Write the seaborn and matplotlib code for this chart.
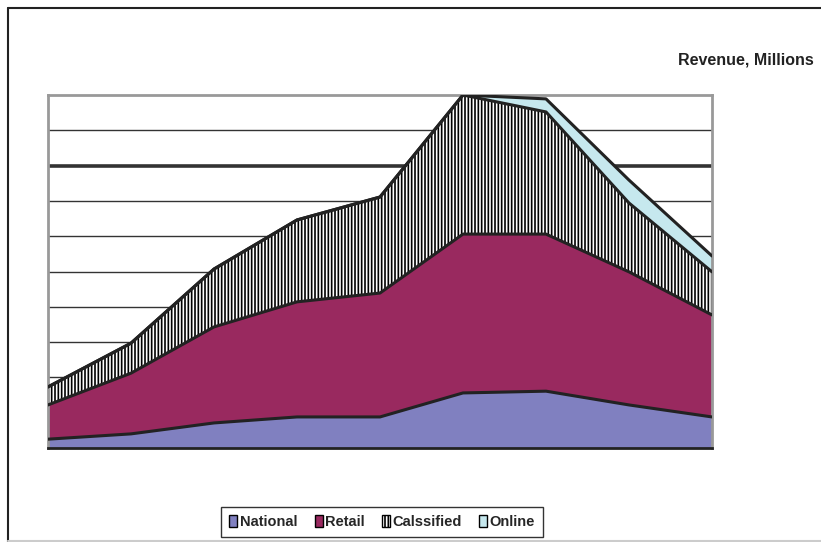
import numpy as np
import pandas as pd
import matplotlib
matplotlib.use('Agg')
import matplotlib.pyplot as plt
from matplotlib.patches import Patch
from matplotlib.lines import Line2D
import seaborn as sns

# Data (in gridline units)
periods = list(range(1, 10))
national = [0.25, 0.40, 0.71, 0.88, 0.88, 1.56, 1.61, 1.22, 0.88]
retail = [0.97, 1.72, 2.72, 3.26, 3.51, 4.50, 4.45, 3.77, 2.89]
classified = [0.51, 0.85, 1.64, 2.32, 2.72, 3.94, 3.46, 1.95, 1.22]
online = [0.00, 0.00, 0.00, 0.00, 0.00, 0.00, 0.37, 0.65, 0.45]
series_names = ['National', 'Retail', 'Calssified', 'Online']

df = pd.DataFrame({'period': periods, 'National': national, 'Retail': retail,
                   'Calssified': classified, 'Online': online})

sns.set_theme(style='white')
plt.rcParams['font.family'] = ['Liberation Sans', 'DejaVu Sans']
plt.rcParams['hatch.linewidth'] = 1.2
plt.rcParams['hatch.color'] = 'black'

fig = plt.figure(figsize=(8.21, 5.42), dpi=100)
ax = fig.add_axes([48 / 821, 94 / 542, 664 / 821, 353 / 542])

colors = ['#8080C0', '#99295F', 'white', '#C6E8EE']
hatches = [None, None, '|||||', None]

# stacked areas
cum = np.zeros(len(periods))
tops = []
for name, c, h in zip(series_names, colors, hatches):
    vals = df[name].values
    ax.fill_between(df['period'], cum, cum + vals, facecolor=c, hatch=h,
                    edgecolor='black' if h else c, linewidth=0, zorder=2)
    cum = cum + vals
    tops.append(cum.copy())

# boundary lines drawn with seaborn
lines = pd.DataFrame({'period': np.tile(periods, 4),
                      'value': np.concatenate(tops),
                      'series': np.repeat(series_names, len(periods))})
sns.lineplot(data=lines, x='period', y='value', units='series', estimator=None,
             color='#222222', linewidth=2.2, ax=ax, zorder=4, legend=False)

# gridlines
for g in range(1, 10):
    ax.axhline(g, color='#333333', linewidth=2.6 if g == 8 else 1.0, zorder=1)

ax.set_xlim(1, 9)
ax.set_ylim(0, 10)
ax.set_xticks([])
ax.set_yticks([])
ax.set_xlabel('')
ax.set_ylabel('')
for side in ['top', 'left', 'right']:
    ax.spines[side].set_color('#999999')
    ax.spines[side].set_linewidth(2)
ax.spines['bottom'].set_color('#222222')
ax.spines['bottom'].set_linewidth(2)

fig.text(814 / 821, 1 - 60 / 542, 'Revenue, Millions', ha='right', va='center',
         fontsize=11.5, fontweight='bold', color='#222222')

handles = [Patch(facecolor=c, edgecolor='black', hatch=h, linewidth=1)
           for c, h in zip(colors, hatches)]
leg = fig.legend(handles, series_names, loc='center', ncol=4,
                 bbox_to_anchor=(382 / 821, 1 - 522 / 542),
                 frameon=True, fancybox=False, handlelength=0.55, handleheight=0.9,
                 handletextpad=0.15, columnspacing=1.2, borderpad=0.55,
                 prop={'weight': 'bold', 'size': 10.5})
leg.get_frame().set_edgecolor('black')
leg.get_frame().set_linewidth(1)

# outer chart frame: left and top dark, faint bottom
fig.add_artist(Line2D([8 / 821, 8 / 821], [0, 1 - 8 / 542], color='#222222', linewidth=1.5))
fig.add_artist(Line2D([8 / 821, 1], [1 - 8 / 542, 1 - 8 / 542], color='#222222', linewidth=1.5))
fig.add_artist(Line2D([8 / 821, 1], [1 / 542, 1 / 542], color='#cccccc', linewidth=1.5))

fig.savefig('out.png', dpi=100)
